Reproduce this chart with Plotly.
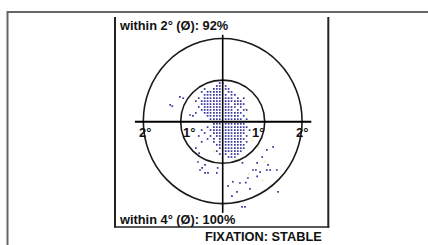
import plotly.graph_objects as go

# ---------------- data (degrees) ----------------
rows = [
    (0.92, [-0.07, 0.0]),
    (0.85, [-0.14, -0.07, 0.07]),
    (0.78, [-0.43, -0.21, -0.14, -0.07, 0.07, 0.14]),
    (0.71, [-0.50, -0.36, -0.29, -0.21, -0.14, -0.07, 0.14, 0.21]),
    (0.64, [-0.43, -0.36, -0.29, -0.21, -0.14, -0.07, 0.07, 0.21, 0.29]),
    (0.56, [-0.57, -0.43, -0.36, -0.29, -0.21, -0.14, -0.07, 0.07, 0.14, 0.21, 0.36, 0.50]),
    (0.49, [-0.64, -0.50, -0.43, -0.36, -0.29, -0.21, -0.14, -0.07, 0.07, 0.14, 0.21, 0.29, 0.36, 0.43]),
    (0.42, [-0.50, -0.43, -0.36, -0.29, -0.21, -0.14, -0.07, 0.07, 0.14, 0.29, 0.36, 0.43, 0.50]),
    (0.35, [-0.57, -0.43, -0.36, -0.29, -0.21, -0.14, -0.07, 0.07, 0.14, 0.21, 0.29, 0.43]),
    (0.28, [-0.50, -0.43, -0.36, -0.29, -0.21, -0.14, -0.07, 0.07, 0.14, 0.21, 0.36, 0.50, 0.57]),
    (0.21, [-0.64, -0.43, -0.36, -0.29, -0.21, -0.14, -0.07, 0.07, 0.14, 0.21, 0.29, 0.36, 0.43]),
    (0.14, [-0.71, -0.36, -0.29, -0.21, -0.14, -0.07, 0.07, 0.14, 0.21, 0.29, 0.36, 0.50]),
    (0.06, [-0.29, -0.21, -0.14, -0.07, 0.07, 0.14, 0.21, 0.29, 0.36, 0.43, 0.57]),
    (-0.05, [-0.21, -0.14, -0.07, 0.07, 0.14, 0.21, 0.29, 0.36, 0.43, 0.50]),
    (-0.13, [-0.36, -0.21, -0.14, -0.07, 0.07, 0.14, 0.21, 0.29, 0.36, 0.43, 0.50, 0.57]),
    (-0.20, [-0.50, -0.29, -0.21, -0.14, -0.07, 0.07, 0.14, 0.21, 0.29, 0.36, 0.43, 0.50, 0.64]),
    (-0.27, [-0.43, -0.21, -0.14, -0.07, 0.07, 0.14, 0.21, 0.29, 0.36, 0.43, 0.50]),
    (-0.34, [-0.57, -0.29, -0.14, -0.07, 0.07, 0.14, 0.21, 0.29, 0.36, 0.43, 0.57]),
    (-0.41, [-0.36, -0.21, -0.07, 0.07, 0.14, 0.21, 0.29, 0.36, 0.43, 0.50]),
    (-0.48, [-0.50, -0.21, -0.07, 0.07, 0.14, 0.21, 0.29, 0.36, 0.43, 0.57]),
    (-0.55, [-0.14, -0.07, 0.07, 0.14, 0.21, 0.29, 0.36, 0.43, 0.50]),
    (-0.63, [-0.64, -0.07, 0.07, 0.14, 0.21, 0.29, 0.36, 0.43, 0.50]),
    (-0.70, [-0.14, 0.07, 0.14, 0.21, 0.29, 0.36, 0.43]),
    (-0.77, [-0.07, 0.07, 0.21, 0.29, 0.36]),
    (-0.84, [0.14, 0.21, 0.29]),
]

outlier_x = [-1.25, -1.20, -1.02, -0.94, -0.78, -0.54, -0.42, -0.35, -0.14, 0.24, 0.41, 0.34,
             0.72, 0.79, 0.89, 1.05, 1.13, 1.29, 1.32, 0.46, 0.53, 0.94, 1.05, 1.20, 1.08,
             0.82, 0.60, 0.13, 0.22, -0.42, -0.56, -0.59, -0.49, -0.12, 0.55, 0.65, 0.82, 0.47]
outlier_y = [0.40, 0.37, 0.59, 0.56, 0.16, -1.15, -1.22, -1.22, -1.22, -1.43, -1.46, -1.67,
             -1.15, -1.15, -1.20, -1.15, -1.15, -1.15, -1.67, -2.03, -2.03, -0.84, -0.67, -0.60, -1.03,
             -0.98, -1.34, -1.53, -1.77, -1.03, -0.75, -0.96, -1.10, -1.10, -1.45, -1.60, -1.30, -0.98]

faint_x = [0.40, 0.55, 0.70, 0.85, 0.30, 1.00, 0.62, -0.20, 0.95]
faint_y = [0.50, 0.30, -0.45, -0.60, -0.90, -0.95, -1.25, -0.70, -1.40]

tick_vals = [-2, -1, 1, 2]
tick_labels = ["2°", "1°", "1°", "2°"]
tick_label_x = [-1.85, -0.80, 0.84, 1.89]

title_top = "within 2° (Ø): 92%"
title_bottom = "within 4° (Ø): 100%"
status_text = "FIXATION: STABLE"

# ---------------- figure ----------------
W, H = 428, 245
CX, CY, S = 222.7, 121.7, 42.0  # centre in px and px per degree

fx, fy = [], []
for yv, xs in rows:
    for xv in xs:
        fx.append(xv)
        fy.append(yv)

fig = go.Figure()
fig.add_trace(go.Scatter(x=faint_x, y=faint_y, mode="markers",
                         marker=dict(symbol="square", size=2.2, color="#f3eec4", line=dict(width=0)),
                         hoverinfo="skip"))
fig.add_trace(go.Scatter(x=fx + outlier_x, y=fy + outlier_y, mode="markers",
                         marker=dict(symbol="square", size=1.7, color="#35359a", line=dict(width=0)),
                         hoverinfo="skip"))

def px(xp):
    return xp / W

def py(yp):
    return 1 - yp / H

shapes = []
# outer gray frame
shapes.append(dict(type="line", xref="paper", yref="paper", x0=px(7), x1=px(430), y0=py(12), y1=py(12),
                   line=dict(color="#666666", width=2)))
shapes.append(dict(type="line", xref="paper", yref="paper", x0=px(7.5), x1=px(7.5), y0=py(11), y1=py(250),
                   line=dict(color="#666666", width=2)))
# inner panel
for xx in (115, 328.3):
    shapes.append(dict(type="line", xref="paper", yref="paper", x0=px(xx), x1=px(xx), y0=py(17), y1=py(227.5),
                       line=dict(color="#222222", width=2)))
shapes.append(dict(type="line", xref="paper", yref="paper", x0=px(114), x1=px(329.3), y0=py(227), y1=py(227),
                   line=dict(color="#222222", width=1.5)))
# circles
shapes.append(dict(type="circle", xref="x", yref="y", x0=-1.0, x1=1.0, y0=-0.99, y1=0.99,
                   line=dict(color="#1a1a1a", width=1.6)))
shapes.append(dict(type="circle", xref="x", yref="y", x0=-1.89, x1=1.89, y0=-1.95, y1=1.98,
                   line=dict(color="#1a1a1a", width=1.6)))
# cross-hair axes
shapes.append(dict(type="line", xref="x", yref="y", x0=-2.09, x1=2.11, y0=0, y1=0,
                   line=dict(color="#000000", width=2)))
shapes.append(dict(type="line", xref="x", yref="y", x0=0, x1=0, y0=-2.17, y1=2.07,
                   line=dict(color="#000000", width=1.6)))

font = dict(family="Liberation Sans, Arial, sans-serif", size=12.8, color="#111111")
tfont = dict(family="Liberation Sans, Arial, sans-serif", size=13, color="#111111")
ann = []
for lx, lab in zip(tick_label_x, tick_labels):
    ann.append(dict(x=lx, y=-0.25, xref="x", yref="y", text="<b>" + lab + "</b>", showarrow=False,
                    font=tfont, xanchor="center", yanchor="middle"))
ann.append(dict(x=px(117), y=py(26), xref="paper", yref="paper", text="<b>" + title_top + "</b>",
                showarrow=False, font=font, xanchor="left", yanchor="middle"))
ann.append(dict(x=px(117), y=py(219), xref="paper", yref="paper", text="<b>" + title_bottom + "</b>",
                showarrow=False, font=font, xanchor="left", yanchor="middle"))
ann.append(dict(x=px(324), y=py(236), xref="paper", yref="paper", text="<b>" + status_text + "</b>",
                showarrow=False, font=font, xanchor="right", yanchor="middle"))

fig.update_layout(
    width=W, height=H, margin=dict(l=0, r=0, t=0, b=0),
    paper_bgcolor="white", plot_bgcolor="white", showlegend=False,
    xaxis=dict(range=[-CX / S, (W - CX) / S], visible=False, fixedrange=True),
    yaxis=dict(range=[-(H - CY) / S, CY / S], visible=False, fixedrange=True),
    shapes=shapes, annotations=ann,
)
fig.write_html("out.html", config={"displayModeBar": False},
               post_script="document.body.style.margin='0';document.body.style.overflow='hidden';")
